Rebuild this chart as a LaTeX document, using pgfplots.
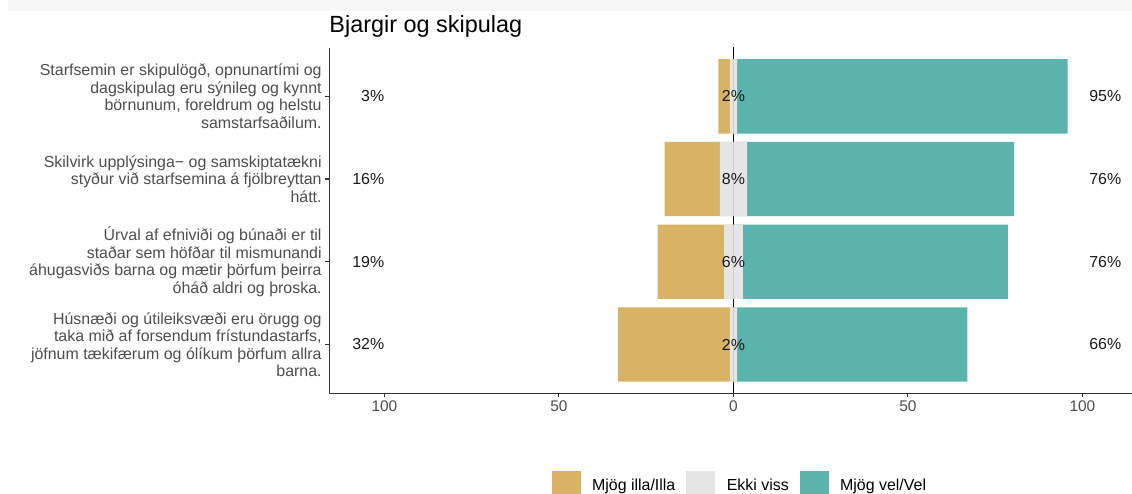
\documentclass[border=0pt]{standalone}
\usepackage{pgfplots}
\pgfplotsset{compat=1.18}
\usepackage{pgfplotstable}
\usepackage{fontspec}
\setmainfont{Liberation Sans}
\definecolor{cneg}{HTML}{D8B365}
\definecolor{cneu}{HTML}{E5E5E5}
\definecolor{cpos}{HTML}{5AB4AC}
\definecolor{gtxt}{HTML}{4D4D4D}
\definecolor{gax}{HTML}{333333}
% neg, neu, pos in percent; bars are centred on the neutral share
\pgfplotstableread{
y neg neu pos
4 3.3 2.1 94.7
3 15.8 7.8 76.5
2 19.0 5.4 75.9
1 32.0 2.1 66.0
}\datatab
\newcommand\lblfont{\fontsize{16}{17.6}\selectfont}
\begin{document}
\begin{tikzpicture}
\useasboundingbox (0,0) rectangle (1132bp,494bp);
\fill[black!3] (8bp,483bp) rectangle (1132bp,494bp);
\draw[black, line width=1.2bp] (733.3bp,100.7bp) -- (733.3bp,447bp);
\begin{axis}[
  at={(329.3bp,100.7bp)}, anchor=south west,
  scale only axis, width=802.7bp, height=345bp,
  xmin=-115.8, xmax=114.2, ymin=0.41, ymax=4.58,
  xbar, bar width=0.9, bar shift=0pt,
  axis x line=bottom, axis y line=left,
  axis line style={gax, line width=1.1bp, -},
  xtick={-100,-50,0,50,100}, xticklabels={100,50,0,50,100},
  ytick={1,2,3,4},
  yticklabels={
    {Húsnæði og útileiksvæði eru örugg og\\taka mið af forsendum frístundastarfs,\\jöfnum tækifærum og ólíkum þörfum allra\\barna.},
    {Úrval af efniviði og búnaði er til\\staðar sem höfðar til mismunandi\\áhugasviðs barna og mætir þörfum þeirra\\óháð aldri og þroska.},
    {Skilvirk upplýsinga− og samskiptatækni\\styður við starfsemina á fjölbreyttan\\hátt.},
    {Starfsemin er skipulögð, opnunartími og\\dagskipulag eru sýnileg og kynnt\\börnunum, foreldrum og helstu\\samstarfsaðilum.}
  },
  tick align=outside, major tick length=4bp,
  tick style={gax, line width=1.1bp},
  /pgf/number format/assume math mode=true,
  xticklabel style={font=\fontsize{15.5}{17.6}\selectfont, text=gtxt},
  yticklabel style={font=\lblfont, text=gtxt, align=right, inner xsep=0pt, xshift=-3.5bp},
  title={Bjargir og skipulag},
  title style={at={(0,1)}, anchor=base west, inner sep=0pt, yshift=10bp, font=\fontsize{23.5}{27}\selectfont},
  legend columns=3,
  legend style={at={(0.5115,-0.2658)}, anchor=center, draw=none, fill=none,
    font=\lblfont,
    /tikz/every odd column/.append style={column sep=10bp},
    /tikz/every even column/.append style={column sep=9bp}},
  clip=false,
]
\addplot[draw=none, fill=cpos, forget plot] table[x expr={\thisrow{pos}+0.5*\thisrow{neu}}, y=y] {\datatab};
\addplot[draw=none, fill=cneg, forget plot] table[x expr={-\thisrow{neg}-0.5*\thisrow{neu}}, y=y] {\datatab};
\addplot[draw=none, fill=cneu, forget plot] table[x expr={0.5*\thisrow{neu}}, y=y] {\datatab};
\addplot[draw=none, fill=cneu, forget plot] table[x expr={-0.5*\thisrow{neu}}, y=y] {\datatab};
\addlegendimage{legend image code/.code={\fill[cneg] (0bp,-14bp) rectangle (28bp,14bp);}}
\addlegendentry{Mjög illa/Illa}
\addlegendimage{legend image code/.code={\fill[cneu] (0bp,-14bp) rectangle (28bp,14bp);}}
\addlegendentry{Ekki viss}
\addlegendimage{legend image code/.code={\fill[cpos] (0bp,-14bp) rectangle (28bp,14bp);}}
\addlegendentry{Mjög vel/Vel}
\coordinate (L4) at (axis cs:-100,4);
\coordinate (L3) at (axis cs:-100,3);
\coordinate (L2) at (axis cs:-100,2);
\coordinate (L1) at (axis cs:-100,1);
\coordinate (M4) at (axis cs:0,4);
\coordinate (M3) at (axis cs:0,3);
\coordinate (M2) at (axis cs:0,2);
\coordinate (M1) at (axis cs:0,1);
\coordinate (R4) at (axis cs:101.9,4);
\coordinate (R3) at (axis cs:101.9,3);
\coordinate (R2) at (axis cs:101.9,2);
\coordinate (R1) at (axis cs:101.9,1);
\end{axis}
\begin{scope}[every node/.style={font=\lblfont, text=black!90, inner sep=0pt}]
\node[anchor=east] at (L4) {3\%};
\node[anchor=east] at (L3) {16\%};
\node[anchor=east] at (L2) {19\%};
\node[anchor=east] at (L1) {32\%};
\node at (M4) {2\%};
\node at (M3) {8\%};
\node at (M2) {6\%};
\node at (M1) {2\%};
\node[anchor=west] at (R4) {95\%};
\node[anchor=west] at (R3) {76\%};
\node[anchor=west] at (R2) {76\%};
\node[anchor=west] at (R1) {66\%};
\end{scope}
\end{tikzpicture}
\end{document}
